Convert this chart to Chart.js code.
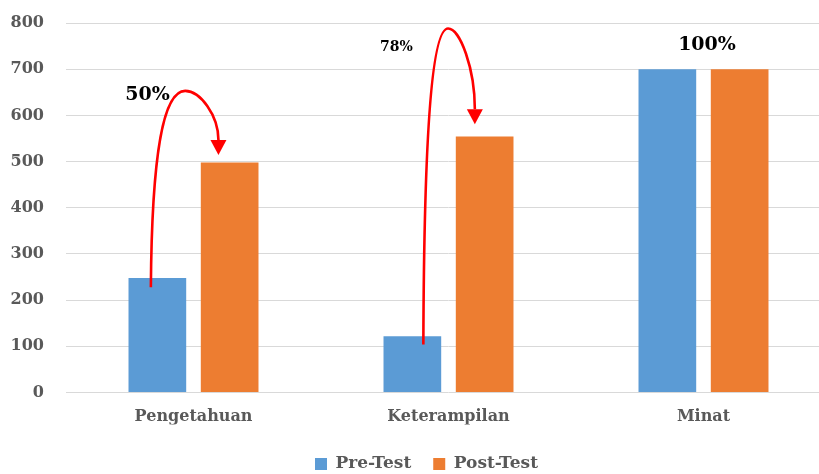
<!DOCTYPE html>
<html>
<head>
<meta charset="utf-8">
<script src="https://cdn.jsdelivr.net/npm/chart.js@4.4.1/dist/chart.umd.min.js"></script>
<style>
  html, body { margin: 0; padding: 0; background: #fff; overflow: hidden; }
  #wrap { width: 819px; height: 474px; overflow: hidden; position: relative; }
  canvas { display: block; }
</style>
</head>
<body>
<div id="wrap">
  <canvas id="barChart" width="832" height="474"></canvas>
</div>
<script>
// Data
const categories = ['Pengetahuan', 'Keterampilan', 'Minat'];
const preTest = [248, 122, 700];
const postTest = [498, 554, 700];
const yTicks = [0, 100, 200, 300, 400, 500, 600, 700, 800];

// Percentage annotations
const pctLabels = ['50%', '78%', '100%'];
const pctLabelValue = [644, 747, 753];

// Red curved arrows (value units): start on pre bar, top of curve, arrow tip
const arrowStart = [228, 104];
const arrowPeak = [653, 788];
const arrowTip = [514, 581];

const gray = '#595959';
const serif = "'DejaVu Serif', serif";

// label / arrow placement (pixel offsets, style only)
const pctLabelStyle = [
    { dx: -46, size: 19 },
    { dx: -52, size: 14 },
    { dx: 3.5, size: 19 }
];
const arrowStyle = [
    { startDx: -6.5, peakDx: -8.3, tipDx: -11.2 },
    { startDx: 11, peakDx: -0.4, tipDx: -9.8 }
];

const annotations = {
    id: 'annotations',
    afterLayout(chart) {
        // move legend to where the reference has it
        if (chart.legend) {
            chart.legend.left = 293;
            chart.legend.top = 433.5;
        }
    },
    afterDatasetsDraw(chart) {
        const ctx = chart.ctx;
        const y = chart.scales.y;
        const pre = chart.getDatasetMeta(0).data;
        const post = chart.getDatasetMeta(1).data;

        ctx.save();
        // arrows
        arrowStart.forEach((v, i) => {
            const st = arrowStyle[i];
            const sx = pre[i].x + st.startDx, sy = y.getPixelForValue(v);
            const px = (pre[i].x + post[i].x) / 2 + st.peakDx, py = y.getPixelForValue(arrowPeak[i]);
            const tx = post[i].x + st.tipDx, ty = y.getPixelForValue(arrowTip[i]);
            const hy = ty - 15;

            ctx.strokeStyle = '#ff0000';
            ctx.lineWidth = 2.6;
            ctx.beginPath();
            ctx.moveTo(sx, sy);
            ctx.bezierCurveTo(sx + (px - sx) * 0.03, sy - (sy - py) * 0.7,
                              sx + (px - sx) * 0.38, py, px, py);
            ctx.bezierCurveTo(px + (tx - px) * 0.45, py,
                              tx, py + (hy - py) * 0.5, tx, hy);
            ctx.stroke();

            ctx.fillStyle = '#ff0000';
            ctx.beginPath();
            ctx.moveTo(tx - 8, hy);
            ctx.lineTo(tx + 8, hy);
            ctx.lineTo(tx, ty);
            ctx.closePath();
            ctx.fill();
        });

        // percentage labels
        ctx.fillStyle = '#000';
        ctx.textAlign = 'center';
        ctx.textBaseline = 'middle';
        pctLabels.forEach((t, i) => {
            const cx = (pre[i].x + post[i].x) / 2 + pctLabelStyle[i].dx;
            ctx.font = 'bold ' + pctLabelStyle[i].size + 'px ' + serif;
            ctx.fillText(t, cx, y.getPixelForValue(pctLabelValue[i]));
        });
        ctx.restore();
    }
};

const ctx = document.getElementById('barChart').getContext('2d');

const barChart = new Chart(ctx, {
    type: 'bar',
    data: {
        labels: categories,
        datasets: [{
            label: 'Pre-Test',
            data: preTest,
            backgroundColor: '#5b9bd5',
            categoryPercentage: 0.567,
            barPercentage: 0.798
        }, {
            label: 'Post-Test',
            data: postTest,
            backgroundColor: '#ed7d31',
            categoryPercentage: 0.567,
            barPercentage: 0.798
        }]
    },
    options: {
        responsive: false,
        animation: false,
        layout: { padding: { top: 23, right: 1, bottom: 0.5, left: 0 } },
        scales: {
            y: {
                min: 0,
                max: 800,
                afterBuildTicks: (s) => { s.ticks = yTicks.map(v => ({ value: v })); },
                afterFit: (s) => {
                    s.width = 66;
                    // tick padding only pushes labels sideways, not the plot top
                    s.paddingTop = 10;
                    s.paddingBottom = 10;
                },
                grid: { color: '#d9d9d9', lineWidth: 1, drawTicks: false },
                border: { display: false },
                ticks: {
                    padding: 22,
                    color: gray,
                    font: { family: serif, size: 16, weight: 'bold' }
                }
            },
            x: {
                afterFit: (s) => { s.height = 32; },
                grid: { display: false, drawTicks: false },
                border: { display: false },
                ticks: {
                    padding: 15,
                    color: gray,
                    font: { family: serif, size: 16, weight: 'bold' }
                }
            }
        },
        plugins: {
            legend: {
                position: 'bottom',
                align: 'start',
                labels: {
                    boxWidth: 12,
                    boxHeight: 12,
                    padding: 22,
                    color: gray,
                    font: { family: serif, size: 17, weight: 'bold' }
                }
            },
            tooltip: { enabled: false }
        }
    },
    plugins: [annotations]
});
</script>
</body>
</html>
